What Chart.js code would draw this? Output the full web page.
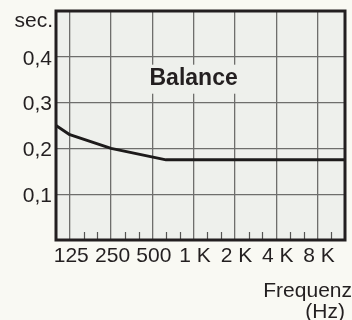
<!DOCTYPE html>
<html>
<head>
<meta charset="utf-8">
<style>
  html, body { margin: 0; padding: 0; background: #f9f9f3; }
  #wrap { width: 352px; height: 320px; }
  canvas { display: block; }
</style>
<script src="https://cdn.jsdelivr.net/npm/chart.js@4/dist/chart.umd.min.js"></script>
</head>
<body>
<div id="wrap"><canvas id="c" width="352" height="320"></canvas></div>
<script>
// Reverberation time of the "Balance" setting over frequency
const freqHz = [100, 125, 250, 630, 12500];
const reverbSec = [0.25, 0.23, 0.20, 0.175, 0.175];
const freqTickLabels = ['125', '250', '500', '1 K', '2 K', '4 K', '8 K'];
const secTickValues = [0.1, 0.2, 0.3, 0.4];
const secTickLabels = ['0,1', '0,2', '0,3', '0,4'];
const seriesLabel = 'Balance';
const labelAtHz = 1000;
const labelAtSec = 0.35;
const yUnit = 'sec.';
const xTitle = ['Frequenz', '(Hz)'];

const FONT = '"Liberation Sans", Arial, Helvetica, sans-serif';
const INK = '#231f20';
const GRID = '#6e6e6c';
const PAGE_BG = '#f9f9f3';
const PLOT_BG = '#eef0ec';

// position in octaves above 125 Hz, snapped to the nominal third-octave band
const octavePos = f => Math.round(3 * Math.log2(f / 125)) / 3;

const points = freqHz.map((f, i) => ({ x: octavePos(f), y: reverbSec[i] }));

const framePlugin = {
  id: 'frame',
  beforeDraw(chart) {
    const { ctx, chartArea: a } = chart;
    ctx.save();
    ctx.fillStyle = PAGE_BG;
    ctx.fillRect(0, 0, chart.width, chart.height);
    ctx.fillStyle = PLOT_BG;
    ctx.fillRect(a.left, a.top, a.right - a.left, a.bottom - a.top);
    ctx.restore();
  },
  beforeDatasetsDraw(chart) {
    const { ctx, chartArea: a, scales: { x, y } } = chart;
    ctx.save();
    // third-octave marks along the bottom edge
    ctx.strokeStyle = '#555553';
    ctx.lineWidth = 1.2;
    const lo = Math.ceil(x.min * 3), hi = Math.floor(x.max * 3);
    for (let k = lo; k <= hi; k++) {
      if (k % 3 === 0) continue;
      const px = Math.round(x.getPixelForValue(k / 3)) + 0.5;
      if (px <= a.left + 2 || px >= a.right - 2) continue;
      ctx.beginPath();
      ctx.moveTo(px, a.bottom);
      ctx.lineTo(px, a.bottom - 8);
      ctx.stroke();
    }
    // series name on a plate that interrupts the grid
    ctx.font = 'bold 23px ' + FONT;
    const cx = x.getPixelForValue(octavePos(labelAtHz));
    const cy = y.getPixelForValue(labelAtSec);
    const w = ctx.measureText(seriesLabel).width + 16;
    ctx.fillStyle = PLOT_BG;
    ctx.fillRect(cx - w / 2, cy - 15, w, 29);
    ctx.fillStyle = INK;
    ctx.textAlign = 'center';
    ctx.textBaseline = 'middle';
    ctx.fillText(seriesLabel, cx, cy - 1);
    ctx.restore();
  },
  afterDatasetsDraw(chart) {
    const { ctx, chartArea: a } = chart;
    ctx.save();
    ctx.strokeStyle = INK;
    ctx.lineWidth = 3;
    ctx.strokeRect(a.left, a.top, a.right - a.left, a.bottom - a.top);
    ctx.restore();
  },
  afterDraw(chart) {
    const { ctx, chartArea: a } = chart;
    ctx.save();
    ctx.fillStyle = INK;
    ctx.font = '21px ' + FONT;
    ctx.textBaseline = 'alphabetic';
    ctx.textAlign = 'right';
    ctx.fillText(yUnit, a.left - 3, a.top + 16);
    ctx.fillText(xTitle[0], chart.width, a.bottom + 57);
    ctx.fillText(xTitle[1], a.right, a.bottom + 78);
    ctx.restore();
  }
};

new Chart(document.getElementById('c'), {
  type: 'scatter',
  data: {
    datasets: [{
      label: seriesLabel,
      data: points,
      showLine: true,
      borderColor: '#1d1b1b',
      borderWidth: 3,
      pointRadius: 0,
      tension: 0,
      borderJoinStyle: 'round'
    }]
  },
  options: {
    responsive: false,
    animation: false,
    devicePixelRatio: 1,
    layout: { padding: { top: 11, right: 7, left: 0, bottom: 0 } },
    plugins: { legend: { display: false }, tooltip: { enabled: false } },
    scales: {
      x: {
        type: 'linear',
        min: octavePos(freqHz[0]),
        max: octavePos(freqHz[freqHz.length - 1]),
        afterBuildTicks: s => { s.ticks = freqTickLabels.map((_, i) => ({ value: i })); },
        afterFit: s => { s.height = 80; s.paddingLeft = 0; s.paddingRight = 0; },
        border: { display: false },
        grid: { color: GRID, lineWidth: 1.3, drawTicks: false },
        ticks: {
          callback: (v, i) => freqTickLabels[i],
          autoSkip: false,
          maxRotation: 0,
          padding: 4,
          labelOffset: 1.5,
          color: INK,
          font: { size: 21, family: FONT }
        }
      },
      y: {
        type: 'linear',
        min: 0,
        max: 0.5,
        afterBuildTicks: s => { s.ticks = secTickValues.map(v => ({ value: v })); },
        afterFit: s => { s.width = 56; s.paddingTop = 0; s.paddingBottom = 0; },
        border: { display: false },
        grid: { color: GRID, lineWidth: 1.3, drawTicks: false },
        ticks: {
          callback: (v, i) => secTickLabels[i],
          padding: 4,
          labelOffset: 2,
          color: INK,
          font: { size: 21, family: FONT }
        }
      }
    }
  },
  plugins: [framePlugin]
});
</script>
</body>
</html>
